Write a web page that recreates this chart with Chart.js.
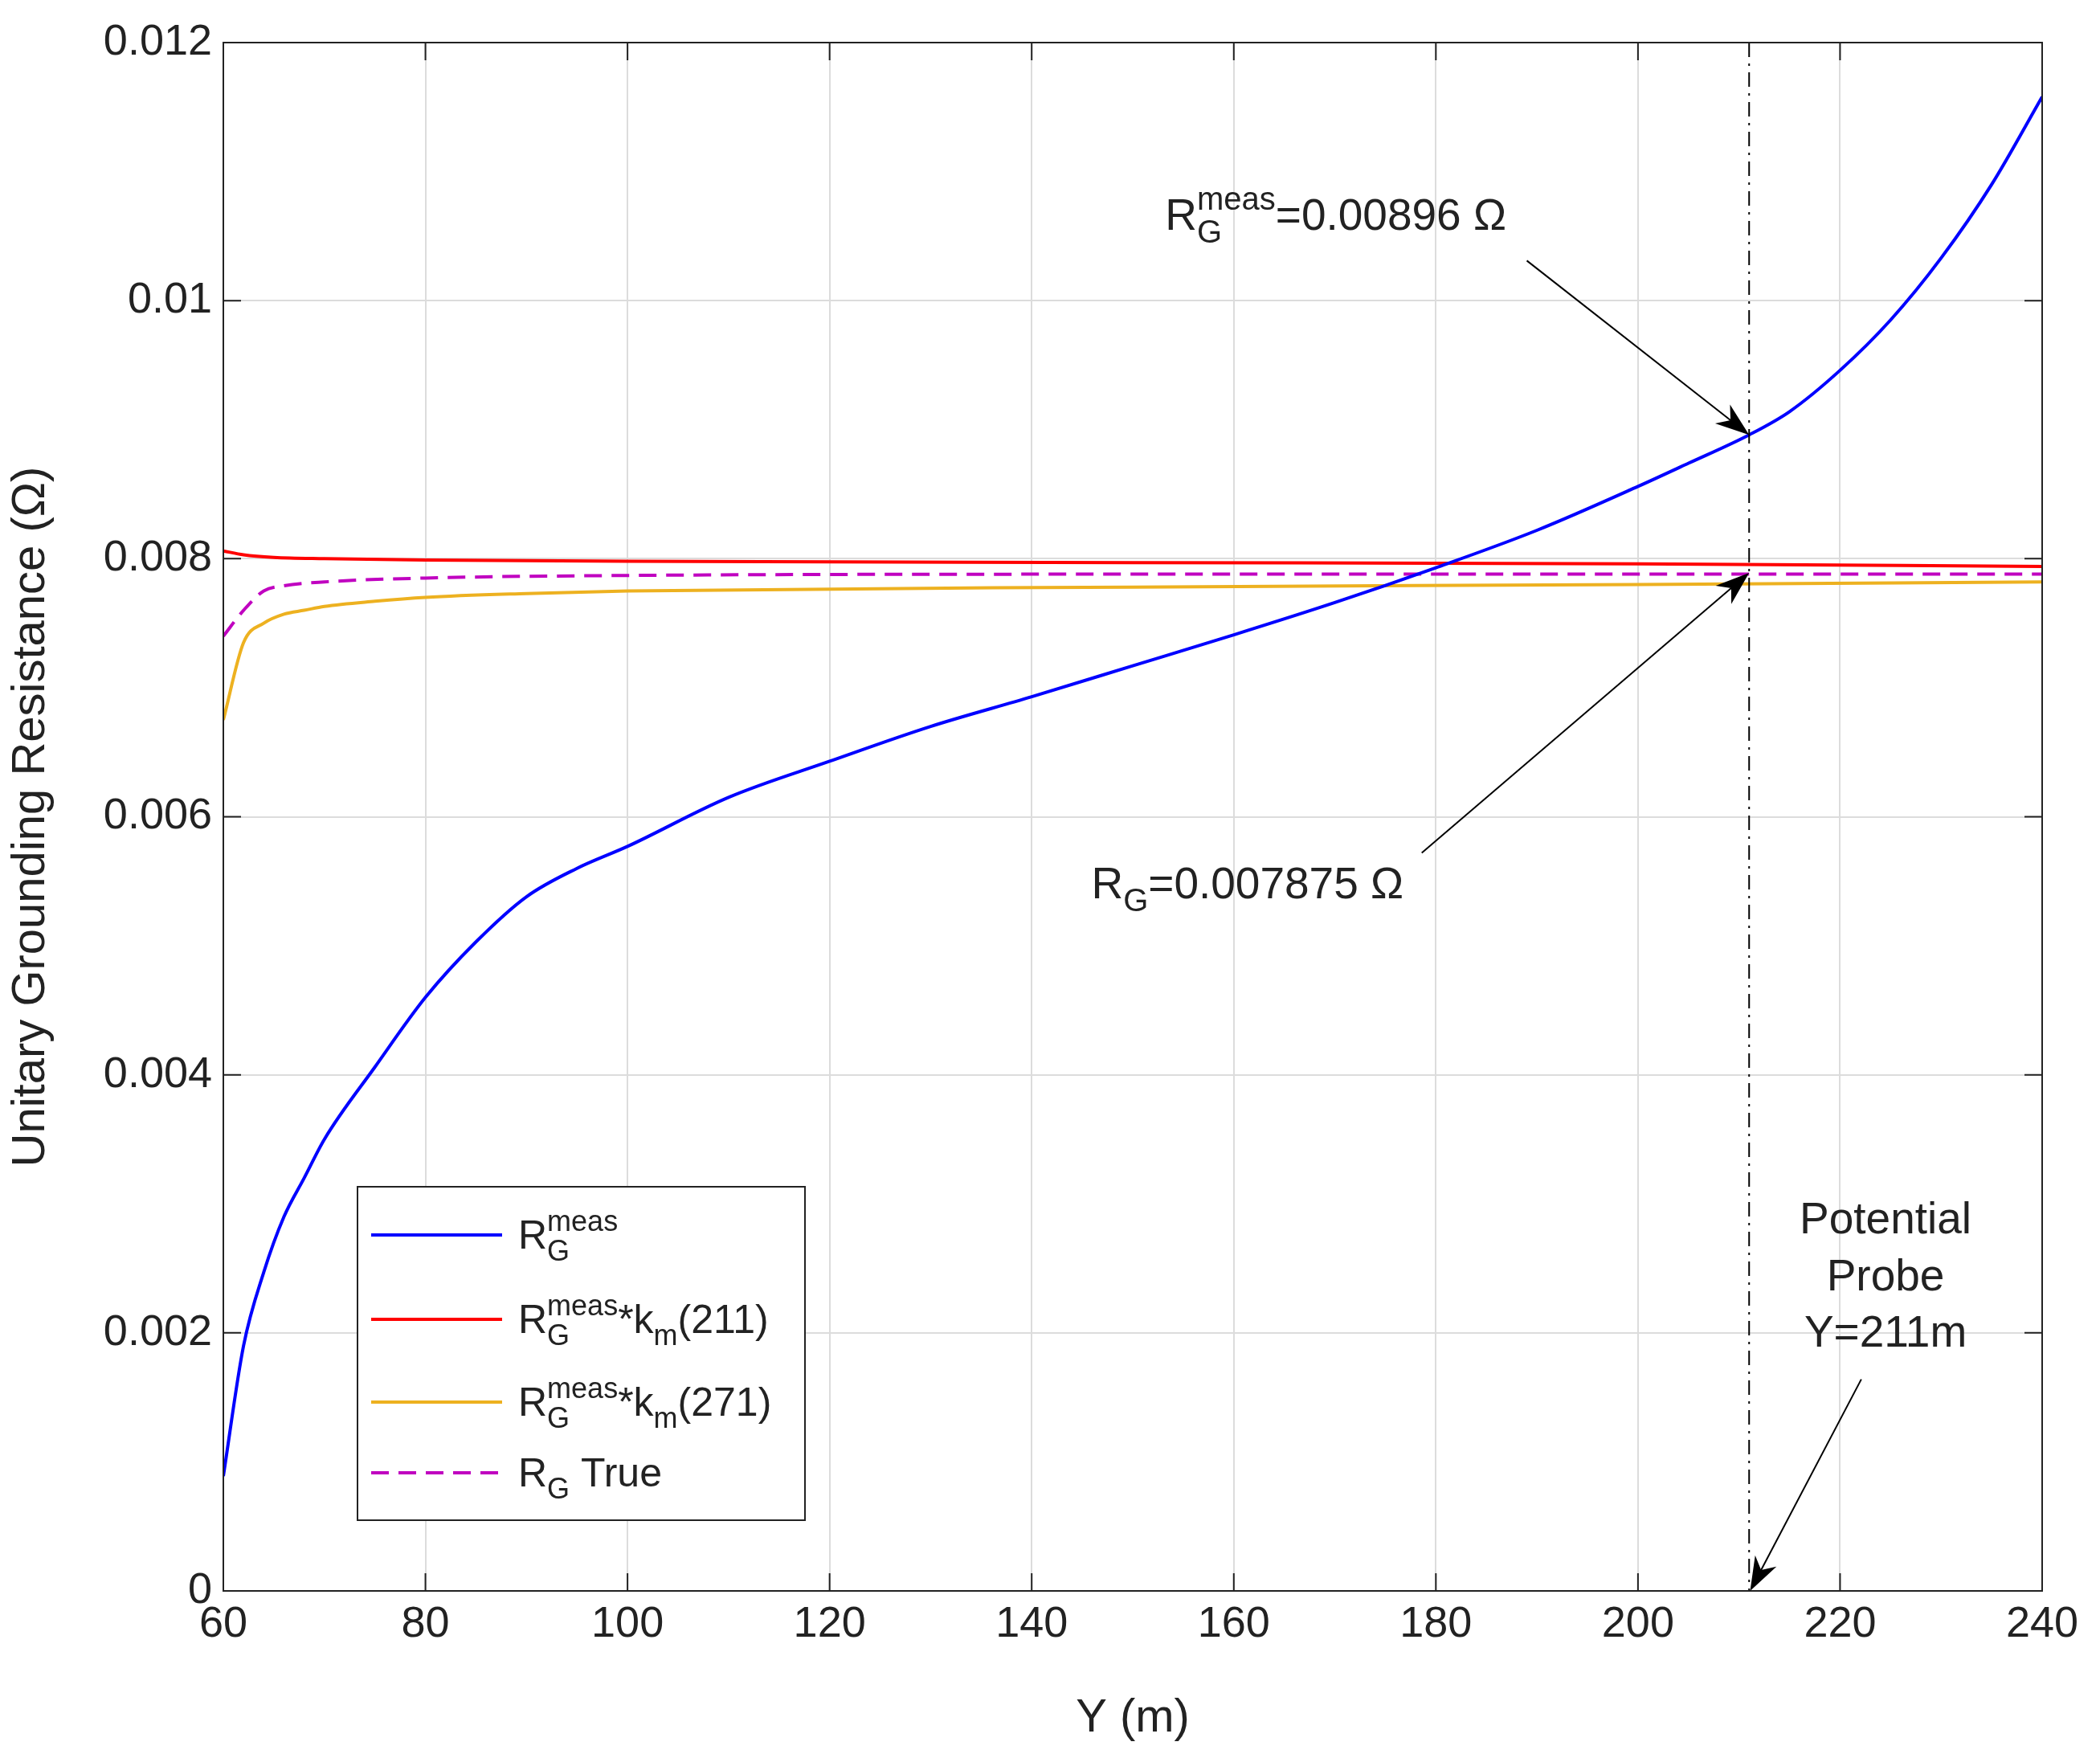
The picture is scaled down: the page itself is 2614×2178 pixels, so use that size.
<!DOCTYPE html>
<html><head><meta charset="utf-8">
<script src="https://cdn.jsdelivr.net/npm/chart.js@4"></script>
<style>html,body{margin:0;padding:0;background:#fff}#w{width:2614px;height:2178px}</style>
</head><body><div id="w"><canvas id="c" width="2614" height="2178"></canvas></div>
<script>
const blueX = [60,62,64,66,68,70,75,80,85,90,95,100,110,120,130,140,150,160,170,180,190,200,205,211,215,220,225,230,235,240];
const blueY = [0.00089,0.0019,0.00247,0.0029,0.0032,0.0035,0.00406,0.0046,0.00503,0.00538,0.0056,0.00577,0.00615,0.00643,0.0067,0.00693,0.00717,0.00741,0.00766,0.00793,0.00822,0.00856,0.00874,0.00896,0.00914,0.00946,0.00985,0.01033,0.0109,0.01158];
const redX = [60,62,65,70,80,100,150,200,240];
const redY = [0.00806,0.00803,0.00801,0.008,0.00799,0.00798,0.00797,0.00796,0.00794];
const orgX = [60,62,64,66,68,70,75,80,90,100,150,200,240];
const orgY = [0.00675,0.00735,0.0075,0.00757,0.0076,0.00763,0.00767,0.0077,0.00773,0.00775,0.00778,0.0078,0.00782];
const magX = [60,62,64,66,70,80,100,150,200,240];
const magY = [0.0074,0.0076,0.00775,0.00779,0.00782,0.00785,0.00787,0.00788,0.00788,0.00788];
const xTicks = [60,80,100,120,140,160,180,200,220,240];
const yTicks = [0,0.002,0.004,0.006,0.008,0.01,0.012];
const probeX = 211;
const FONT = '"Liberation Sans", Arial, sans-serif';
const pts = (xs, ys) => xs.map((x, i) => ({x, y: ys[i]}));

function arrow(ctx, x1, y1, x2, y2) {
  ctx.save(); ctx.strokeStyle = '#000'; ctx.fillStyle = '#000'; ctx.lineWidth = 2;
  const a = Math.atan2(y2 - y1, x2 - x1), L = 42, W = 15;
  ctx.beginPath(); ctx.moveTo(x1, y1); ctx.lineTo(x2 - L * 0.7 * Math.cos(a), y2 - L * 0.7 * Math.sin(a)); ctx.stroke();
  ctx.beginPath(); ctx.moveTo(x2, y2);
  ctx.lineTo(x2 - L * Math.cos(a) + W * Math.sin(a), y2 - L * Math.sin(a) - W * Math.cos(a));
  ctx.lineTo(x2 - L * 0.7 * Math.cos(a), y2 - L * 0.7 * Math.sin(a));
  ctx.lineTo(x2 - L * Math.cos(a) - W * Math.sin(a), y2 - L * Math.sin(a) + W * Math.cos(a));
  ctx.closePath(); ctx.fill(); ctx.restore();
}
function rich(ctx, x, y, parts, size) {
  ctx.save(); ctx.fillStyle = '#222'; ctx.textBaseline = 'alphabetic'; ctx.textAlign = 'left';
  let cx = x;
  for (const p of parts) {
    if (p.m === 'n') { ctx.font = size + 'px ' + FONT; ctx.fillText(p.t, cx, y); cx += ctx.measureText(p.t).width; }
    else if (p.m === 'sub') { ctx.font = Math.round(size * 0.72) + 'px ' + FONT; ctx.fillText(p.t, cx, y + size * 0.3); cx += ctx.measureText(p.t).width; }
    else if (p.m === 'subsup') { ctx.font = Math.round(size * 0.72) + 'px ' + FONT;
      ctx.fillText(p.sub, cx, y + size * 0.3); ctx.fillText(p.sup, cx, y - size * 0.45);
      cx += Math.max(ctx.measureText(p.sub).width, ctx.measureText(p.sup).width); }
  }
  ctx.restore(); return cx;
}

const deco = {
  id: 'deco',
  afterDatasetsDraw(chart) {
    const {ctx, scales: {x, y}, chartArea: ca} = chart;
    ctx.save(); ctx.strokeStyle = '#000'; ctx.lineWidth = 2; ctx.setLineDash([18, 8, 3, 8]);
    ctx.beginPath(); ctx.moveTo(x.getPixelForValue(probeX), ca.top); ctx.lineTo(x.getPixelForValue(probeX), ca.bottom); ctx.stroke(); ctx.restore();
    ctx.save(); ctx.strokeStyle = '#222'; ctx.lineWidth = 2; ctx.strokeRect(ca.left, ca.top, ca.right - ca.left, ca.bottom - ca.top);
    for (const v of xTicks) { const px = x.getPixelForValue(v); ctx.beginPath(); ctx.moveTo(px, ca.bottom); ctx.lineTo(px, ca.bottom - 22); ctx.moveTo(px, ca.top); ctx.lineTo(px, ca.top + 22); ctx.stroke(); }
    for (const v of yTicks) { const py = y.getPixelForValue(v); ctx.beginPath(); ctx.moveTo(ca.left, py); ctx.lineTo(ca.left + 22, py); ctx.moveTo(ca.right, py); ctx.lineTo(ca.right - 22, py); ctx.stroke(); }
    ctx.restore();
    const fs = 55;
    rich(ctx, x.getPixelForValue(153.2), y.getPixelForValue(0.01055), [{t:'R', m:'n'}, {m:'subsup', sub:'G', sup:'meas'}, {t:'=0.00896 Ω', m:'n'}], fs);
    arrow(ctx, x.getPixelForValue(189), y.getPixelForValue(0.01031), x.getPixelForValue(211), y.getPixelForValue(0.00896));
    rich(ctx, x.getPixelForValue(145.9), y.getPixelForValue(0.00537), [{t:'R', m:'n'}, {t:'G', m:'sub'}, {t:'=0.007875 Ω', m:'n'}], fs);
    arrow(ctx, x.getPixelForValue(178.6), y.getPixelForValue(0.00572), x.getPixelForValue(211), y.getPixelForValue(0.00789));
    ctx.save(); ctx.fillStyle = '#222'; ctx.font = fs + 'px ' + FONT; ctx.textAlign = 'center';
    ctx.fillText('Potential', x.getPixelForValue(224.5), y.getPixelForValue(0.00277));
    ctx.fillText('Probe', x.getPixelForValue(224.5), y.getPixelForValue(0.00233));
    ctx.fillText('Y=211m', x.getPixelForValue(224.5), y.getPixelForValue(0.00189));
    ctx.restore();
    arrow(ctx, x.getPixelForValue(222.1), y.getPixelForValue(0.00164), x.getPixelForValue(211.1), y.getPixelForValue(0));
    ctx.save(); ctx.fillStyle = '#fff'; ctx.fillRect(445, 1477, 557, 415); ctx.strokeStyle = '#222'; ctx.lineWidth = 2; ctx.strokeRect(445, 1477, 557, 415);
    const rows = [
      {c:'#0000ff', d:[], y:1537, p:[{t:'R',m:'n'},{m:'subsup',sub:'G',sup:'meas'}]},
      {c:'#ff0000', d:[], y:1642, p:[{t:'R',m:'n'},{m:'subsup',sub:'G',sup:'meas'},{t:'*k',m:'n'},{t:'m',m:'sub'},{t:'(211)',m:'n'}]},
      {c:'#edb120', d:[], y:1745, p:[{t:'R',m:'n'},{m:'subsup',sub:'G',sup:'meas'},{t:'*k',m:'n'},{t:'m',m:'sub'},{t:'(271)',m:'n'}]},
      {c:'#c000c0', d:[22,12], y:1833, p:[{t:'R',m:'n'},{t:'G',m:'sub'},{t:' True',m:'n'}]},
    ];
    for (const r of rows) {
      ctx.strokeStyle = r.c; ctx.lineWidth = 4; ctx.setLineDash(r.d);
      ctx.beginPath(); ctx.moveTo(462, r.y); ctx.lineTo(625, r.y); ctx.stroke(); ctx.setLineDash([]);
      rich(ctx, 645, r.y + 17, r.p, 50);
    }
    ctx.restore();
  }
};

Chart.defaults.font.family = FONT;
new Chart(document.getElementById('c'), {
  type: 'scatter',
  data: { datasets: [
    {data: pts(blueX, blueY), borderColor: '#0000ff', showLine: true, borderWidth: 4, pointRadius: 0, cubicInterpolationMode: 'monotone'},
    {data: pts(redX, redY), borderColor: '#ff0000', showLine: true, borderWidth: 4, pointRadius: 0, cubicInterpolationMode: 'monotone'},
    {data: pts(orgX, orgY), borderColor: '#edb120', showLine: true, borderWidth: 4, pointRadius: 0, cubicInterpolationMode: 'monotone'},
    {data: pts(magX, magY), borderColor: '#c000c0', showLine: true, borderWidth: 4, pointRadius: 0, borderDash: [22, 12], cubicInterpolationMode: 'monotone'},
  ]},
  options: {
    responsive: false, animation: false, devicePixelRatio: 1,
    layout: {padding: {left: 0, right: 72, top: 53, bottom: 0}},
    plugins: {legend: {display: false}, tooltip: {enabled: false}},
    scales: {
      x: {type: 'linear', min: 60, max: 240,
        afterBuildTicks: s => { s.ticks = xTicks.map(v => ({value: v})); },
        afterFit: s => { s.height = 198; },
        ticks: {color: '#222', font: {size: 54}, padding: 10, maxRotation: 0},
        grid: {color: '#dcdcdc', lineWidth: 2, drawTicks: false},
        border: {display: false},
        title: {display: true, text: 'Y (m)', color: '#222', font: {size: 58}, padding: {top: 0}}},
      y: {min: 0, max: 0.012,
        afterBuildTicks: s => { s.ticks = yTicks.map(v => ({value: v})); },
        afterFit: s => { s.width = 278; },
        ticks: {color: '#222', font: {size: 54}, padding: 14, callback: v => String(parseFloat(Number(v).toFixed(4)))},
        grid: {color: '#dcdcdc', lineWidth: 2, drawTicks: false},
        border: {display: false},
        title: {display: true, text: 'Unitary Grounding Resistance (Ω)', color: '#222', font: {size: 58}, padding: {bottom: 0}}}
    }
  },
  plugins: [deco]
});
</script></body></html>
